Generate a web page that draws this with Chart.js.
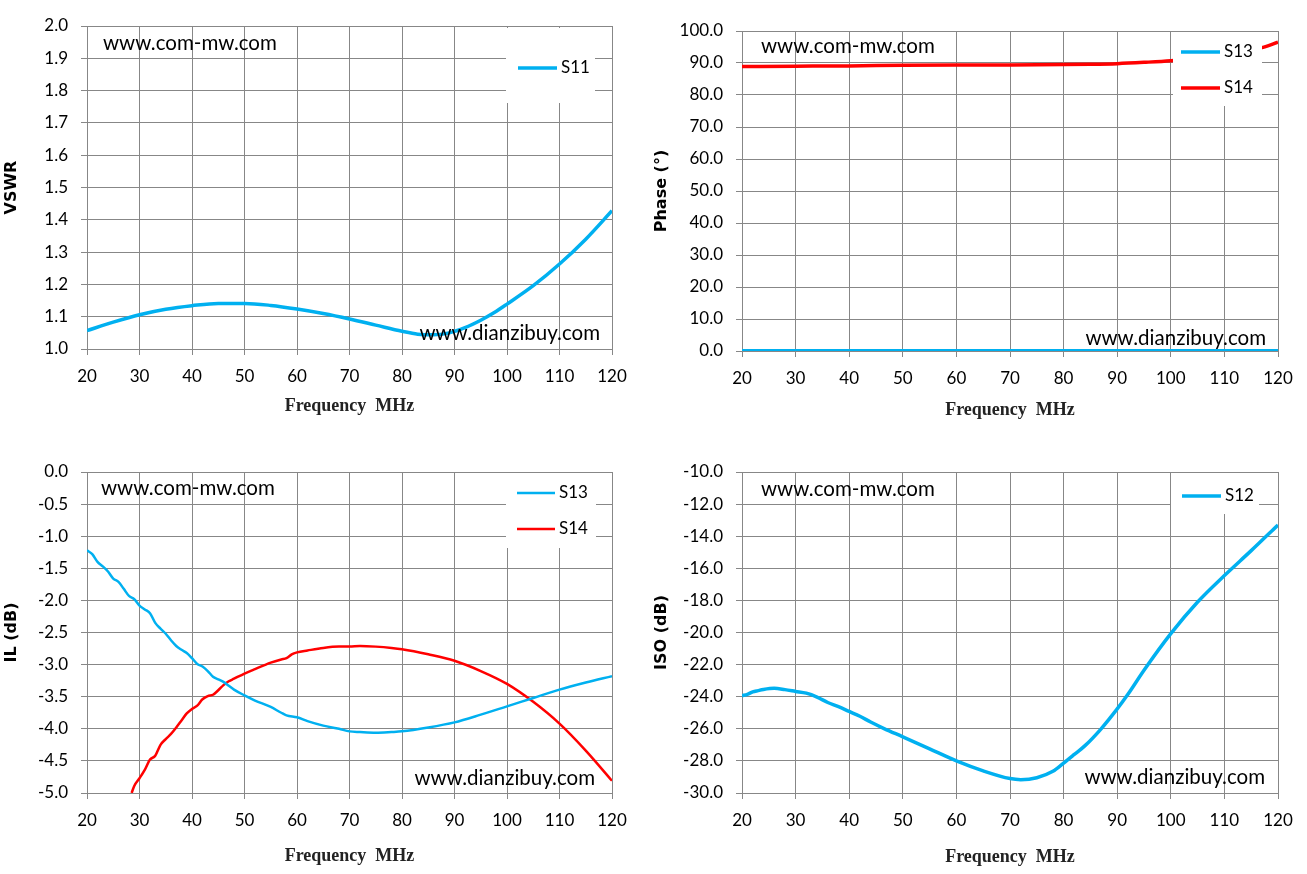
<!DOCTYPE html>
<html>
<head>
<meta charset="utf-8">
<script src="https://cdn.jsdelivr.net/npm/chart.js@4.4.1/dist/chart.umd.min.js"></script>
<style>
  html, body { margin: 0; padding: 0; background: #fff; }
  #page { position: relative; width: 1307px; height: 874px; }
  .cell { position: absolute; }
</style>
</head>
<body>
<div id="page">
  <div class="cell" style="left:0;top:0;width:650px;height:430px"><canvas id="vswrChart"></canvas></div>
  <div class="cell" style="left:650px;top:0;width:657px;height:430px"><canvas id="phaseChart"></canvas></div>
  <div class="cell" style="left:0;top:440px;width:650px;height:434px"><canvas id="ilChart"></canvas></div>
  <div class="cell" style="left:650px;top:440px;width:657px;height:434px"><canvas id="isoChart"></canvas></div>
</div>
<script>
// tick labels
const freqTicks = [20, 30, 40, 50, 60, 70, 80, 90, 100, 110, 120];
const vswrTicks = [1.0, 1.1, 1.2, 1.3, 1.4, 1.5, 1.6, 1.7, 1.8, 1.9, 2.0];
const phaseTicks = [0, 10, 20, 30, 40, 50, 60, 70, 80, 90, 100];
const ilTicks = [-5.0, -4.5, -4.0, -3.5, -3.0, -2.5, -2.0, -1.5, -1.0, -0.5, 0.0];
const isoTicks = [-30, -28, -26, -24, -22, -20, -18, -16, -14, -12, -10];

// VSWR - S11
const vswrFreq = [20, 25, 30, 35, 40, 45, 50, 55, 60, 65, 70, 75, 80, 83, 86, 89, 92, 95, 97.5, 100, 105, 110, 115, 120];
const vswrS11 = [1.057, 1.083, 1.106, 1.123, 1.134, 1.141, 1.141, 1.135, 1.124, 1.110, 1.093, 1.074, 1.055, 1.046, 1.044, 1.050, 1.066, 1.089, 1.112, 1.139, 1.196, 1.263, 1.340, 1.428];

// Phase - S13 / S14
const phaseFreq = [20, 30, 40, 50, 60, 70, 80, 85, 90, 95, 100, 105, 110, 115, 117, 120];
const phaseS13 = [0.1, 0.1, 0.1, 0.1, 0.1, 0.1, 0.1, 0.1, 0.1, 0.1, 0.1, 0.1, 0.1, 0.1, 0.1, 0.1];
const phaseS14 = [88.9, 89.0, 89.1, 89.3, 89.4, 89.4, 89.5, 89.6, 89.8, 90.2, 90.7, 91.5, 92.6, 94.0, 94.8, 96.5];

// IL - S13 / S14
const ilFreqS13 = [20, 21, 22, 23, 24, 25, 26, 27, 28, 29, 30, 31, 32, 33, 34, 35, 36, 37, 38, 39, 40, 41, 42, 43, 44, 45, 46, 47, 48, 50, 52, 55, 57, 58, 60, 62, 65, 68, 70, 72, 75, 78, 80, 85, 90, 95, 100, 105, 110, 115, 120];
const ilS13 = [-1.22, -1.28, -1.40, -1.47, -1.55, -1.66, -1.71, -1.82, -1.93, -1.98, -2.08, -2.14, -2.20, -2.35, -2.44, -2.52, -2.62, -2.71, -2.77, -2.82, -2.90, -2.99, -3.03, -3.10, -3.19, -3.23, -3.27, -3.33, -3.39, -3.48, -3.56, -3.66, -3.75, -3.79, -3.82, -3.88, -3.95, -4.00, -4.04, -4.05, -4.06, -4.05, -4.04, -3.98, -3.90, -3.78, -3.65, -3.52, -3.39, -3.28, -3.18];
const ilFreqS14 = [28.5, 29, 30, 31, 32, 33, 34, 35, 36, 37, 38, 39, 40, 41, 42, 43, 44, 45, 46, 47, 48, 50, 52, 55, 57, 58, 59, 60, 62, 65, 68, 70, 72, 75, 78, 80, 85, 90, 95, 100, 105, 110, 115, 120];
const ilS14 = [-5.00, -4.89, -4.77, -4.64, -4.48, -4.42, -4.25, -4.16, -4.08, -3.98, -3.87, -3.76, -3.69, -3.64, -3.54, -3.49, -3.47, -3.40, -3.32, -3.26, -3.22, -3.14, -3.07, -2.97, -2.92, -2.90, -2.84, -2.81, -2.78, -2.74, -2.72, -2.72, -2.71, -2.72, -2.74, -2.76, -2.84, -2.94, -3.10, -3.30, -3.58, -3.92, -4.34, -4.81];

// ISO - S12
const isoFreq = [20, 21, 22, 23, 24, 26, 28, 30, 32, 34, 36, 38, 40, 42, 44, 46.6, 50, 55, 60, 65, 70, 72, 75, 78, 80, 82, 84, 87, 90, 92, 95, 100, 105, 110, 115, 120];
const isoS12 = [-23.94, -23.85, -23.70, -23.62, -23.55, -23.48, -23.56, -23.67, -23.78, -24.02, -24.36, -24.62, -24.92, -25.22, -25.58, -26.00, -26.50, -27.25, -28.00, -28.62, -29.10, -29.17, -29.05, -28.65, -28.14, -27.60, -27.05, -26.00, -24.76, -23.85, -22.35, -20.07, -18.10, -16.45, -14.90, -13.30];

const BLUE = '#00B0F0';
const RED = '#FF0000';
const GRID = '#878787';

function points(xs, ys) {
  return xs.map((x, i) => ({ x: x, y: ys[i] }));
}

// watermarks and the white legend box drawn inside the plot area
const overlayPlugin = {
  id: 'overlay',
  afterDraw(chart, args, o) {
    const ctx = chart.ctx;
    const a = chart.chartArea;
    ctx.save();
    ctx.fillStyle = '#000';
    ctx.font = '20.5px Lato';
    ctx.textBaseline = 'middle';
    ctx.textAlign = 'left';
    ctx.fillText('www.com-mw.com', a.left + o.topMark[0], a.top + o.topMark[1]);
    ctx.textAlign = 'right';
    ctx.fillText('www.dianzibuy.com', a.right - o.bottomMark[0], a.bottom - o.bottomMark[1]);

    const bx = a.right - o.box.right - o.box.w;
    const by = a.top + o.box.top;
    ctx.fillStyle = '#fff';
    ctx.fillRect(bx, by, o.box.w, o.box.h);
    ctx.font = '17px Lato';
    ctx.textAlign = 'left';
    chart.data.datasets.forEach((ds, i) => {
      const y = by + o.rows[i];
      ctx.strokeStyle = ds.borderColor;
      ctx.lineWidth = ds.borderWidth;
      ctx.beginPath();
      ctx.moveTo(bx + o.line[0], y);
      ctx.lineTo(bx + o.line[1], y);
      ctx.stroke();
      ctx.fillStyle = '#000';
      ctx.fillText(ds.label, bx + o.line[1] + 4, y);
    });
    ctx.restore();
  }
};

function makeChart(id, c) {
  const ctx = document.getElementById(id).getContext('2d');
  return new Chart(ctx, {
    type: 'line',
    data: { datasets: c.datasets },
    options: {
      responsive: true,
      maintainAspectRatio: false,
      animation: false,
      layout: { padding: { top: c.padTop, right: c.padRight, left: 0, bottom: 0 } },
      elements: { point: { radius: 0 }, line: { cubicInterpolationMode: 'monotone' } },
      plugins: {
        legend: { display: false },
        tooltip: { enabled: false },
        overlay: c.overlay
      },
      scales: {
        x: {
          type: 'linear',
          min: freqTicks[0],
          max: freqTicks[freqTicks.length - 1],
          afterBuildTicks: s => { s.ticks = freqTicks.map(v => ({ value: v })); },
          afterFit: s => { s.height = c.xHeight; },
          ticks: { color: '#000', font: { family: 'Lato', size: 17 }, padding: 11, maxRotation: 0 },
          grid: { color: GRID, tickColor: GRID, tickLength: 6 },
          border: { color: GRID },
          title: {
            display: true,
            text: 'Frequency  MHz',
            color: '#222',
            font: { family: 'Liberation Serif', size: 18, weight: 'bold' },
            padding: { top: 0, bottom: c.titlePad }
          }
        },
        y: {
          min: c.yTicks[0],
          max: c.yTicks[c.yTicks.length - 1],
          afterBuildTicks: s => { s.ticks = c.yTicks.map(v => ({ value: v })); },
          afterFit: s => { s.width = c.yWidth; },
          ticks: { color: '#000', font: { family: 'Lato', size: 17 }, padding: 13, callback: v => v.toFixed(1) },
          grid: { color: GRID, tickColor: GRID, tickLength: 6 },
          border: { color: GRID },
          title: {
            display: true,
            text: c.yTitle,
            color: '#000',
            font: { family: 'DejaVu Sans', size: 16, weight: 'bold' },
            padding: { top: 2, bottom: 0 }
          }
        }
      }
    },
    plugins: [overlayPlugin]
  });
}

makeChart('vswrChart', {
  datasets: [
    { label: 'S11', data: points(vswrFreq, vswrS11), borderColor: BLUE, borderWidth: 3.5 }
  ],
  yTicks: vswrTicks, yTitle: 'VSWR',
  padTop: 26, padRight: 38, yWidth: 87, xHeight: 81, titlePad: 13,
  overlay: { topMark: [16, 17], bottomMark: [12, 16], box: { right: 17, top: 2, w: 89, h: 75 }, rows: [40], line: [12, 51] }
});

makeChart('phaseChart', {
  datasets: [
    { label: 'S13', data: points(phaseFreq, phaseS13), borderColor: BLUE, borderWidth: 3.5 },
    { label: 'S14', data: points(phaseFreq, phaseS14), borderColor: RED, borderWidth: 3.5 }
  ],
  yTicks: phaseTicks, yTitle: 'Phase (°)',
  padTop: 31, padRight: 29, yWidth: 92, xHeight: 79, titlePad: 9,
  overlay: { topMark: [19, 15], bottomMark: [12, 13], box: { right: 16, top: 1, w: 89, h: 74 }, rows: [20, 56], line: [8, 47] }
});

makeChart('ilChart', {
  datasets: [
    { label: 'S13', data: points(ilFreqS13, ilS13), borderColor: BLUE, borderWidth: 2.5 },
    { label: 'S14', data: points(ilFreqS14, ilS14), borderColor: RED, borderWidth: 2.5 }
  ],
  yTicks: ilTicks, yTitle: 'IL (dB)',
  padTop: 32, padRight: 38, yWidth: 87, xHeight: 81, titlePad: 7,
  overlay: { topMark: [14, 16], bottomMark: [17, 15], box: { right: 16, top: 1, w: 90, h: 75 }, rows: [20, 56], line: [11, 49] }
});

makeChart('isoChart', {
  datasets: [
    { label: 'S12', data: points(isoFreq, isoS12), borderColor: BLUE, borderWidth: 3.5 }
  ],
  yTicks: isoTicks, yTitle: 'ISO (dB)',
  padTop: 32, padRight: 29, yWidth: 92, xHeight: 81, titlePad: 6,
  overlay: { topMark: [19, 17], bottomMark: [13, 16], box: { right: 19, top: 1, w: 88, h: 41 }, rows: [23], line: [11, 50] }
});
</script>
</body>
</html>
